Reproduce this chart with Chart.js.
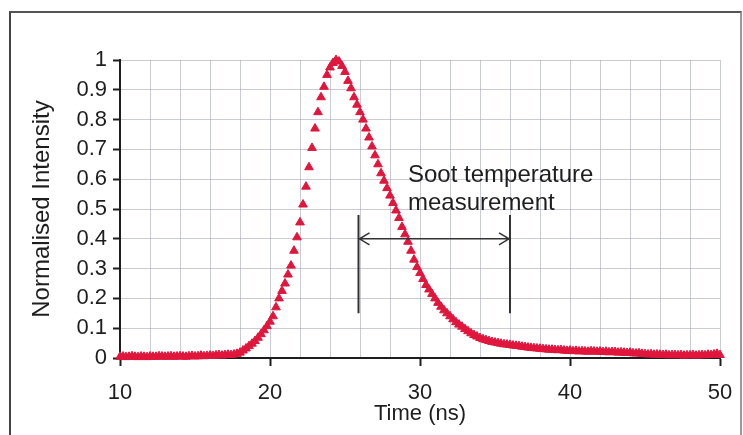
<!DOCTYPE html>
<html>
<head>
<meta charset="utf-8">
<script src="https://cdn.jsdelivr.net/npm/chart.js@4"></script>
<style>
  html, body { margin: 0; padding: 0; background: #fff; }
  #wrap { position: relative; width: 743px; height: 435px; overflow: hidden; }
  #frame {
    position: absolute; left: 9px; top: 11px; width: 729px; height: 440px;
    border-left: 2px solid #444; border-top: 2px solid #555; border-right: 2px solid #999;
  }
  canvas { position: absolute; left: 0; top: 0; }
</style>
</head>
<body>
<div id="wrap">
  <div id="frame"></div>
  <canvas id="chart" width="743" height="435"></canvas>
</div>
<script>
// ── data: normalised intensity sampled every 0.2 ns from 10 ns ──
const timeStart = 10;
const timeStep = 0.2;
const intensity = [
  0.004, 0.005, 0.003, 0.004, 0.006,  // 10
  0.004, 0.003, 0.005, 0.004, 0.003,  // 11
  0.005, 0.004, 0.004, 0.006, 0.005,  // 12
  0.004, 0.005, 0.006, 0.004, 0.005,  // 13
  0.006, 0.005, 0.004, 0.006, 0.007,  // 14
  0.005, 0.006, 0.008, 0.006, 0.007,  // 15
  0.008, 0.007, 0.009, 0.010, 0.008,  // 16
  0.010, 0.011, 0.010, 0.012, 0.014,  // 17
  0.018, 0.025, 0.032, 0.040, 0.048,  // 18
  0.057, 0.068, 0.080, 0.093, 0.107,  // 19
  0.122, 0.140, 0.170, 0.200, 0.225,  // 20
  0.250, 0.280, 0.310, 0.360, 0.405,  // 21
  0.455, 0.515, 0.575, 0.640, 0.705,  // 22
  0.770, 0.825, 0.875, 0.910, 0.950,  // 23
  0.975, 0.990, 1.000, 0.995, 0.980,  // 24
  0.960, 0.930, 0.905, 0.875, 0.850,  // 25
  0.825, 0.800, 0.770, 0.740, 0.710,  // 26
  0.680, 0.650, 0.620, 0.595, 0.570,  // 27
  0.545, 0.520, 0.495, 0.470, 0.440,  // 28
  0.415, 0.390, 0.360, 0.330, 0.305,  // 29
  0.285, 0.265, 0.245, 0.230, 0.215,  // 30
  0.200, 0.185, 0.172, 0.160, 0.150,  // 31
  0.140, 0.130, 0.120, 0.112, 0.105,  // 32
  0.097, 0.090, 0.083, 0.077, 0.072,  // 33
  0.067, 0.063, 0.060, 0.057, 0.054,  // 34
  0.052, 0.050, 0.048, 0.046, 0.045,  // 35
  0.044, 0.042, 0.041, 0.040, 0.038,  // 36
  0.037, 0.035, 0.034, 0.033, 0.032,  // 37
  0.031, 0.030, 0.029, 0.028, 0.028,  // 38
  0.027, 0.026, 0.027, 0.025, 0.024,  // 39
  0.025, 0.023, 0.024, 0.022, 0.023,  // 40
  0.022, 0.021, 0.023, 0.022, 0.021,  // 41
  0.022, 0.020, 0.021, 0.019, 0.020,  // 42
  0.020, 0.018, 0.019, 0.018, 0.017,  // 43
  0.018, 0.016, 0.015, 0.016, 0.014,  // 44
  0.013, 0.012, 0.013, 0.011, 0.012,  // 45
  0.011, 0.010, 0.011, 0.009, 0.010,  // 46
  0.010, 0.009, 0.010, 0.008, 0.009,  // 47
  0.009, 0.010, 0.008, 0.009, 0.010,  // 48
  0.009, 0.011, 0.010, 0.012, 0.014,  // 49
  0.010                               // 50
];

// axis ranges / ticks
const timeRange = [10, 50];
const timeMajorStep = 10;
const timeGridStep = 2;
const intensityRange = [0, 1];
const intensityStep = 0.1;

// annotation: measurement window (ns), bar extent and arrow level
const windowTimes = [25.9, 36];
const windowBar = [0.15, 0.48];
const windowArrowLevel = 0.4;
const noteLines = ['Soot temperature', 'measurement'];
const notePos = { t: 29.2, v: [0.59, 0.497] };

const FONT = "'Liberation Sans', Arial, sans-serif";
const INK = '#1e1e1e';
const GRID = 'rgba(160,160,175,0.55)';
const MARK = '#e0163c';

const points = intensity.map((v, i) => ({ x: timeStart + i * timeStep, y: v }));

// draws the bracket + double arrow + label through the chart scales
const windowNote = {
  id: 'windowNote',
  afterDatasetsDraw(chart) {
    const { ctx, scales: { x, y } } = chart;
    const xl = x.getPixelForValue(windowTimes[0]);
    const xr = x.getPixelForValue(windowTimes[1]);
    const yt = y.getPixelForValue(windowBar[1]);
    const yb = y.getPixelForValue(windowBar[0]);
    const ya = y.getPixelForValue(windowArrowLevel);
    ctx.save();
    ctx.strokeStyle = '#333';
    ctx.lineWidth = 2;
    ctx.beginPath();
    ctx.moveTo(xl, yt); ctx.lineTo(xl, yb);
    ctx.moveTo(xr, yt); ctx.lineTo(xr, yb);
    ctx.stroke();
    ctx.lineWidth = 1.5;
    ctx.beginPath();
    ctx.moveTo(xl, ya); ctx.lineTo(xr, ya);
    ctx.moveTo(xl + 11, ya - 6); ctx.lineTo(xl + 1, ya); ctx.lineTo(xl + 11, ya + 6);
    ctx.moveTo(xr - 11, ya - 6); ctx.lineTo(xr - 1, ya); ctx.lineTo(xr - 11, ya + 6);
    ctx.stroke();
    ctx.fillStyle = INK;
    ctx.font = `24px ${FONT}`;
    ctx.textAlign = 'left';
    ctx.textBaseline = 'alphabetic';
    const tx = x.getPixelForValue(notePos.t);
    noteLines.forEach((s, i) => ctx.fillText(s, tx, y.getPixelForValue(notePos.v[i])));
    ctx.restore();
  }
};

new Chart(document.getElementById('chart'), {
  type: 'scatter',
  data: {
    datasets: [{
      data: points,
      showLine: false,
      pointStyle: 'triangle',
      pointRadius: 5,
      pointBackgroundColor: MARK,
      pointBorderColor: MARK,
      pointBorderWidth: 1,
      clip: false,
    }],
  },
  options: {
    responsive: false,
    animation: false,
    devicePixelRatio: 1,
    layout: { padding: { top: 60, right: 23, left: 0, bottom: 0 } },
    plugins: { legend: { display: false }, tooltip: { enabled: false } },
    scales: {
      x: {
        type: 'linear',
        min: timeRange[0],
        max: timeRange[1],
        afterFit: (s) => { s.height = 77; s.paddingLeft = 0; s.paddingRight = 0; },
        border: { display: true, color: INK, width: 2 },
        grid: {
          color: GRID,
          lineWidth: 1,
          tickLength: 8,
          tickWidth: 2,
          tickColor: (c) => (c.tick && c.tick.value % timeMajorStep === 0 ? INK : 'rgba(0,0,0,0)'),
        },
        ticks: {
          stepSize: timeGridStep,
          autoSkip: false,
          maxRotation: 0,
          padding: 14,
          color: INK,
          font: { family: FONT, size: 22 },
          callback: (v) => (v % timeMajorStep === 0 ? String(v) : ''),
        },
        title: {
          display: true,
          text: 'Time (ns)',
          color: INK,
          font: { family: FONT, size: 22 },
          padding: { top: 0, bottom: 8 },
        },
      },
      y: {
        min: intensityRange[0],
        max: intensityRange[1],
        afterFit: (s) => { s.width = 120; s.paddingTop = 0; s.paddingBottom = 0; },
        border: { display: true, color: INK, width: 2 },
        grid: { color: GRID, lineWidth: 1, tickLength: 7, tickWidth: 2, tickColor: INK },
        ticks: {
          stepSize: intensityStep,
          padding: 6,
          color: INK,
          font: { family: FONT, size: 22 },
          callback: (v) => String(Math.round(v * 10) / 10),
        },
        title: {
          display: true,
          text: 'Normalised Intensity',
          color: INK,
          font: { family: FONT, size: 24 },
          padding: { top: 28, bottom: 0 },
        },
      },
    },
  },
  plugins: [windowNote],
});
</script>
</body>
</html>
